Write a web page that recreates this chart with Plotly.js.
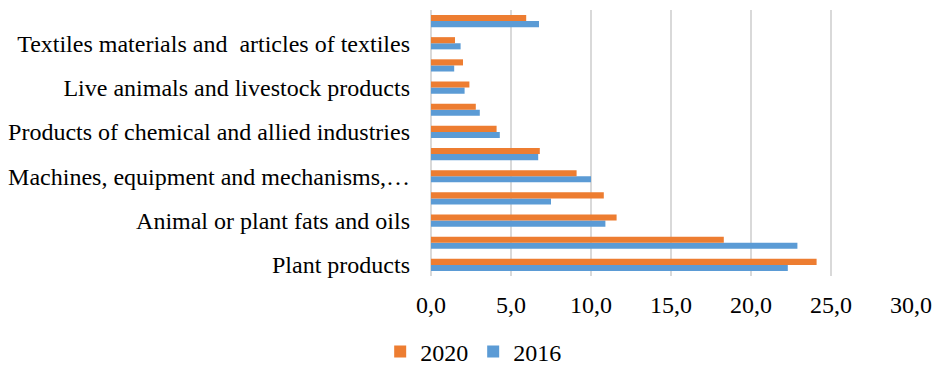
<!DOCTYPE html>
<html>
<head>
<meta charset="utf-8">
<script src="https://cdn.plot.ly/plotly-3.0.1.min.js"></script>
<style>html,body{margin:0;padding:0;background:#fff;}</style>
</head>
<body>
<div id="chart" style="width:937px;height:365px;"></div>
<script>
// categories bottom to top
const categories = [
  "Plant products",
  "(unlabeled 1)",
  "Animal or plant fats and oils",
  "(unlabeled 2)",
  "Machines, equipment and mechanisms,…",
  "(unlabeled 3)",
  "Products of chemical and allied industries",
  "(unlabeled 4)",
  "Live animals and livestock products",
  "(unlabeled 5)",
  "Textiles materials and  articles of textiles",
  "(unlabeled 6)"
];
const labeledCategories = [
  "Plant products",
  "Animal or plant fats and oils",
  "Machines, equipment and mechanisms,…",
  "Products of chemical and allied industries",
  "Live animals and livestock products",
  "Textiles materials and  articles of textiles"
];
const values2020 = [24.1, 18.3, 11.6, 10.8, 9.1, 6.8, 4.1, 2.8, 2.4, 2.0, 1.5, 5.95];
const values2016 = [22.3, 22.9, 10.9, 7.5, 10.0, 6.7, 4.3, 3.05, 2.1, 1.45, 1.85, 6.75];

const traces = [
  {type:'bar', orientation:'h', name:'2016', y:categories, x:values2016,
   marker:{color:'#5B9BD5'}},
  {type:'bar', orientation:'h', name:'2020', y:categories, x:values2020,
   marker:{color:'#ED7D31'}}
];

const font = {family:'"Liberation Serif", "Times New Roman", serif', size:24, color:'#000'};

const layout = {
  width:937, height:365,
  margin:{l:431, r:26, t:10, b:89, autoexpand:false},
  paper_bgcolor:'#fff', plot_bgcolor:'#fff',
  font:font,
  separators:',.',
  barmode:'group',
  bargap:0.45,
  bargroupgap:0,
  showlegend:true,
  legend:{orientation:'h', xref:'container', yref:'container',
          x:0.505, xanchor:'center', y:0.036, yanchor:'middle',
          traceorder:'reversed', font:font, itemwidth:30},
  xaxis:{range:[0,30], dtick:5, tickformat:'.1f', showgrid:true, gridcolor:'#D9D9D9', gridwidth:1.5,
         zeroline:true, zerolinecolor:'#D9D9D9', zerolinewidth:1.5, showline:false,
         ticks:'', ticklabelstandoff:12, automargin:false, fixedrange:true},
  yaxis:{type:'category', categoryorder:'array', categoryarray:categories,
         tickvals:labeledCategories, ticktext:labeledCategories,
         showgrid:false, zeroline:false, showline:false, ticks:'', ticklabelstandoff:20,
         automargin:false, fixedrange:true}
};

Plotly.newPlot('chart', traces, layout, {displayModeBar:false, staticPlot:true});
</script>
</body>
</html>
